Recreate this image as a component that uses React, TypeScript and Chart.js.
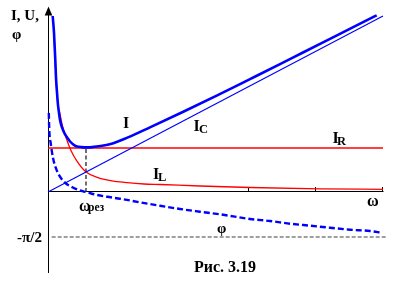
import { useEffect, useRef } from 'react';
import { Chart, registerables } from 'chart.js';

Chart.register(...registerables);

// ω values in axis units (resonance ≈ 0.567, axis ends at 5)
const omegaI = [0.070, 0.090, 0.109, 0.119, 0.134, 0.149, 0.164, 0.179, 0.20, 0.224, 0.255, 0.288, 0.32, 0.358, 0.395, 0.433, 0.50, 0.582, 0.66, 0.731, 0.936, 1.184, 1.522, 2.019, 2.518, 3.015, 3.463, 3.806, 4.313, 4.806, 4.906];
const currentI = [4.0, 3.61, 3.0, 2.61, 2.27, 1.98, 1.80, 1.64, 1.51, 1.41, 1.31, 1.235, 1.165, 1.105, 1.06, 1.035, 1.02, 1.015, 1.02, 1.035, 1.09, 1.235, 1.47, 1.825, 2.19, 2.565, 2.905, 3.17, 3.56, 3.94, 4.015];

const omegaIL = [0.090, 0.119, 0.149, 0.175, 0.213, 0.264, 0.339, 0.437, 0.563, 0.736, 0.936, 1.184, 1.433, 1.672, 2.269, 3.015, 4.06, 5.0];
const currentIL = [3.61, 2.61, 1.98, 1.80, 1.52, 1.26, 0.955, 0.689, 0.461, 0.334, 0.257, 0.211, 0.182, 0.17, 0.136, 0.102, 0.073, 0.061];

const omegaIC = [0, 2.5, 5.0];
const currentIC = [0, 2.0, 4.0];

const omegaIR = [0, 5.0];
const currentIR = [1, 1];

const omegaPhi = [0.012, 0.019, 0.040, 0.075, 0.139, 0.239, 0.363, 0.488, 0.567, 0.736, 0.936, 1.075, 1.373, 1.672, 1.970, 2.269, 2.567, 3.015, 3.313, 3.612, 3.910, 4.209, 4.507, 4.806, 4.981];
const phi = [2.76, 2.16, 1.71, 1.19, 0.71, 0.36, 0.164, 0.045, 0, -0.105, -0.185, -0.234, -0.36, -0.478, -0.593, -0.688, -0.778, -0.942, -1.012, -1.106, -1.176, -1.246, -1.316, -1.361, -1.421];

const omegaLimit = [0.055, 5.055];
const phiLimit = [-Math.PI / 2, -Math.PI / 2];

const omegaRes = [0.567, 0.567];
const currentRes = [0, 1.02];

const xTicks = [3, 4, 5];

const toPts = (xs: number[], ys: number[]) => xs.map((x, i) => ({ x, y: ys[i] }));

const W = 420;
const H = 291;
const ZERO_Y = 192;
const PX_PER_I = 44;
const PX_PER_RAD = 45 / (Math.PI / 2);

const FONT = '"Liberation Serif", "Times New Roman", serif';

const decorPlugin = {
  id: 'decor',
  beforeDatasetsDraw(chart: any) {
    const ctx = chart.ctx;
    const xs = chart.scales.x;
    const ys = chart.scales.y;
    const x0 = Math.round(xs.getPixelForValue(0)) + 0.5;
    const y0 = Math.round(ys.getPixelForValue(0)) - 0.5;
    const xEnd = Math.round(xs.getPixelForValue(5)) + 0.5;
    ctx.save();
    ctx.strokeStyle = '#000';
    ctx.fillStyle = '#000';
    ctx.lineWidth = 1;
    ctx.beginPath();
    ctx.moveTo(x0, 14);
    ctx.lineTo(x0, 273);
    ctx.stroke();
    ctx.beginPath();
    ctx.moveTo(x0, 6.5);
    ctx.lineTo(x0 - 3.8, 15.5);
    ctx.lineTo(x0 + 3.8, 15.5);
    ctx.closePath();
    ctx.fill();
    ctx.beginPath();
    ctx.moveTo(x0, y0);
    ctx.lineTo(xEnd, y0);
    ctx.stroke();
    for (const t of xTicks) {
      const px = Math.round(xs.getPixelForValue(t)) - 0.5;
      ctx.beginPath();
      ctx.moveTo(px, y0);
      ctx.lineTo(px, y0 - 4.5);
      ctx.stroke();
    }
    ctx.restore();
  },
  afterDraw(chart: any) {
    const ctx = chart.ctx;
    ctx.save();
    ctx.fillStyle = '#000';
    ctx.textBaseline = 'alphabetic';
    ctx.textAlign = 'left';
    const t = (s: string, x: number, y: number, size: number) => {
      ctx.font = `bold ${size}px ${FONT}`;
      ctx.fillText(s, x, y);
    };
    t('I, U,', 11, 20, 15);
    t('φ', 12, 39, 15);
    t('I', 123, 127.5, 16);
    t('I', 193.5, 131, 16);
    t('C', 199, 132.5, 12.5);
    t('I', 153, 178.5, 16);
    t('L', 158, 180.5, 12.5);
    t('I', 332.5, 142.5, 16);
    t('R', 337, 144.5, 12.5);
    t('ω', 79, 211, 16);
    t('рез', 88, 211, 11.5);
    t('ω', 367, 206, 16);
    t('φ', 217, 233, 15);
    t('-π/2', 17, 242, 15);
    t('Рис. 3.19', 194, 271.5, 16);
    ctx.restore();
  },
};

export default function App() {
  const ref = useRef<HTMLCanvasElement>(null);
  useEffect(() => {
    const base = { showLine: true, pointRadius: 0, fill: false, clip: false as any };
    const chart = new Chart(ref.current!, {
      type: 'scatter',
      data: {
        datasets: [
          {
            ...base,
            label: 'I',
            data: toPts(omegaI, currentI),
            borderColor: '#0000ff',
            borderWidth: 2.6,
            cubicInterpolationMode: 'monotone',
            yAxisID: 'y',
          },
          {
            ...base,
            label: 'IC',
            data: toPts(omegaIC, currentIC),
            borderColor: '#0000ff',
            borderWidth: 1.2,
            yAxisID: 'y',
          },
          {
            ...base,
            label: 'IL',
            data: toPts(omegaIL, currentIL),
            borderColor: '#ff0000',
            borderWidth: 1.3,
            cubicInterpolationMode: 'monotone',
            yAxisID: 'y',
          },
          {
            ...base,
            label: 'IR',
            data: toPts(omegaIR, currentIR),
            borderColor: '#ff0000',
            borderWidth: 1.3,
            yAxisID: 'y',
          },
          {
            ...base,
            label: 'φ',
            data: toPts(omegaPhi, phi),
            borderColor: '#0000ff',
            borderWidth: 2.4,
            borderDash: [6, 3],
            cubicInterpolationMode: 'monotone',
            yAxisID: 'yp',
          },
          {
            ...base,
            label: 'res',
            data: toPts(omegaRes, currentRes),
            borderColor: '#333333',
            borderWidth: 1.4,
            borderDash: [4, 2.5],
            yAxisID: 'y',
          },
          {
            ...base,
            label: '-pi/2',
            data: toPts(omegaLimit, phiLimit),
            borderColor: '#7f7f7f',
            borderWidth: 1.5,
            borderDash: [4, 2],
            yAxisID: 'yp',
          },
        ],
      },
      options: {
        responsive: false,
        animation: false,
        devicePixelRatio: 1,
        events: [],
        layout: { padding: { left: 48, right: 37, top: 0, bottom: 0 } },
        plugins: { legend: { display: false }, tooltip: { enabled: false } },
        scales: {
          x: { type: 'linear', display: false, min: 0, max: 5 },
          y: { type: 'linear', display: false, min: -(H - ZERO_Y) / PX_PER_I, max: ZERO_Y / PX_PER_I },
          yp: { type: 'linear', display: false, min: -(H - ZERO_Y) / PX_PER_RAD, max: ZERO_Y / PX_PER_RAD },
        },
      },
      plugins: [decorPlugin],
    });
    return () => chart.destroy();
  }, []);
  return (
    <div style={{ position: 'absolute', left: 0, top: 0, width: W, height: H, background: '#fff' }}>
      <canvas ref={ref} width={W} height={H} style={{ display: 'block', width: W, height: H }} />
    </div>
  );
}
